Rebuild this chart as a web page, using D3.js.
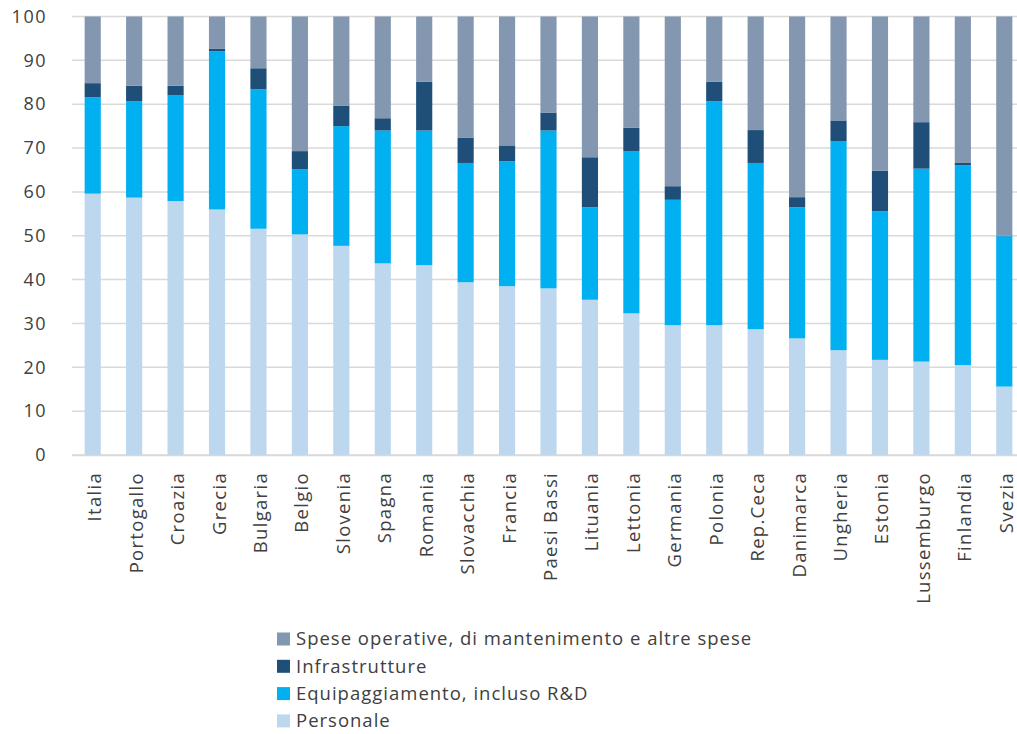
<!DOCTYPE html>
<html>
<head>
<meta charset="utf-8">
<script src="https://cdn.jsdelivr.net/npm/d3@7"></script>
<style>
  html, body { margin: 0; padding: 0; background: #fff; }
  svg { display: block; font-family: "Open Sans", "Noto Sans", sans-serif; }
</style>
</head>
<body>
<svg id="chart" width="1017" height="734"></svg>
<script>
// Paesi, in ordine di spesa per il personale
const paesi = ["Italia", "Portogallo", "Croazia", "Grecia", "Bulgaria", "Belgio", "Slovenia",
  "Spagna", "Romania", "Slovacchia", "Francia", "Paesi Bassi", "Lituania", "Lettonia",
  "Germania", "Polonia", "Rep.Ceca", "Danimarca", "Ungheria", "Estonia", "Lussemburgo",
  "Finlandia", "Svezia"];

// Quote percentuali della spesa per la difesa
const personale = [59.6, 58.7, 57.9, 56.0, 51.6, 50.3, 47.7, 43.7, 43.3, 39.4, 38.5, 38.0,
  35.4, 32.3, 29.6, 29.6, 28.7, 26.6, 23.9, 21.7, 21.3, 20.5, 15.6];
const equipaggiamento = [22.0, 22.0, 24.1, 36.1, 31.8, 14.9, 27.3, 30.3, 30.7, 27.2, 28.5, 36.0,
  21.1, 37.0, 28.6, 51.1, 37.9, 29.9, 47.6, 33.9, 44.0, 45.6, 34.3];
const infrastrutture = [3.2, 3.5, 2.2, 0.6, 4.8, 4.1, 4.7, 2.8, 11.1, 5.8, 3.6, 4.1,
  11.4, 5.3, 3.1, 4.4, 7.5, 2.3, 4.8, 9.2, 10.6, 0.5, 0.1];
const speseOperative = [15.2, 15.8, 15.8, 7.3, 11.8, 30.7, 20.3, 23.2, 14.9, 27.6, 29.4, 21.9,
  32.1, 25.4, 38.7, 14.9, 25.9, 41.2, 23.7, 35.2, 24.1, 33.4, 50.0];

const yTicks = [0, 10, 20, 30, 40, 50, 60, 70, 80, 90, 100];

const serie = [
  { key: "personale", nome: "Personale", valori: personale, colore: "#bdd7ee" },
  { key: "equipaggiamento", nome: "Equipaggiamento, incluso R&D", valori: equipaggiamento, colore: "#00b0f0" },
  { key: "infrastrutture", nome: "Infrastrutture", valori: infrastrutture, colore: "#1f4e79" },
  { key: "spese", nome: "Spese operative, di mantenimento e altre spese", valori: speseOperative, colore: "#8497b0" }
];

const righe = paesi.map((p, i) => {
  const r = { paese: p };
  serie.forEach(s => { r[s.key] = s.valori[i]; });
  return r;
});

const svg = d3.select("#chart");
const textColor = "#404040";

const x = d3.scaleBand().domain(paesi).range([72, 1025]).paddingInner(0.61).paddingOuter(0.305);
const y = d3.scaleLinear().domain([0, 100]).range([455, 16.5]);

// griglia orizzontale
svg.append("g")
  .selectAll("line")
  .data(yTicks)
  .join("line")
  .attr("x1", 72).attr("x2", 1017)
  .attr("y1", d => y(d)).attr("y2", d => y(d))
  .attr("stroke", "#d9d9d9")
  .attr("stroke-width", 1.5);

// asse y
const yAxis = svg.append("g")
  .attr("transform", "translate(58,0)")
  .call(d3.axisLeft(y).tickValues(yTicks).tickSize(0).tickPadding(0));
yAxis.select(".domain").remove();
yAxis.selectAll("text")
  .attr("x", -11)
  .attr("font-size", 18)
  .attr("letter-spacing", 1.5)
  .attr("fill", textColor)
  .attr("font-family", "'Open Sans', sans-serif");

// barre impilate
const stack = d3.stack().keys(serie.map(s => s.key));
const strati = stack(righe);

svg.append("g")
  .selectAll("g")
  .data(strati)
  .join("g")
  .attr("fill", (d, i) => serie[i].colore)
  .selectAll("rect")
  .data(d => d)
  .join("rect")
  .attr("x", d => x(d.data.paese))
  .attr("width", x.bandwidth())
  .attr("y", d => y(d[1]))
  .attr("height", d => y(d[0]) - y(d[1]));

// etichette dei paesi, ruotate
const xAxis = svg.append("g")
  .attr("transform", "translate(0,455)")
  .call(d3.axisBottom(x).tickSize(0).tickPadding(0));
xAxis.select(".domain").attr("stroke", "#d9d9d9").attr("stroke-width", 1.5);
xAxis.selectAll("text")
  .attr("transform", "rotate(-90)")
  .attr("text-anchor", "end")
  .attr("dy", "0.35em")
  .attr("x", -17)
  .attr("y", 2)
  .attr("font-size", 18.5)
  .attr("letter-spacing", 1.3)
  .attr("fill", textColor)
  .attr("font-family", "'Open Sans', sans-serif");

// legenda
const legenda = svg.append("g").attr("transform", "translate(277,639)");
const voci = serie.slice().reverse();
const riga = legenda.selectAll("g")
  .data(voci)
  .join("g")
  .attr("transform", (d, i) => `translate(0,${i * 27.3})`);
riga.append("rect")
  .attr("x", 0).attr("y", -6.5)
  .attr("width", 13).attr("height", 13)
  .attr("fill", d => d.colore);
riga.append("text")
  .attr("x", 19)
  .attr("dy", "0.35em")
  .attr("font-size", 18.5)
  .attr("letter-spacing", 1.0)
  .attr("fill", textColor)
  .text(d => d.nome);
</script>
</body>
</html>
